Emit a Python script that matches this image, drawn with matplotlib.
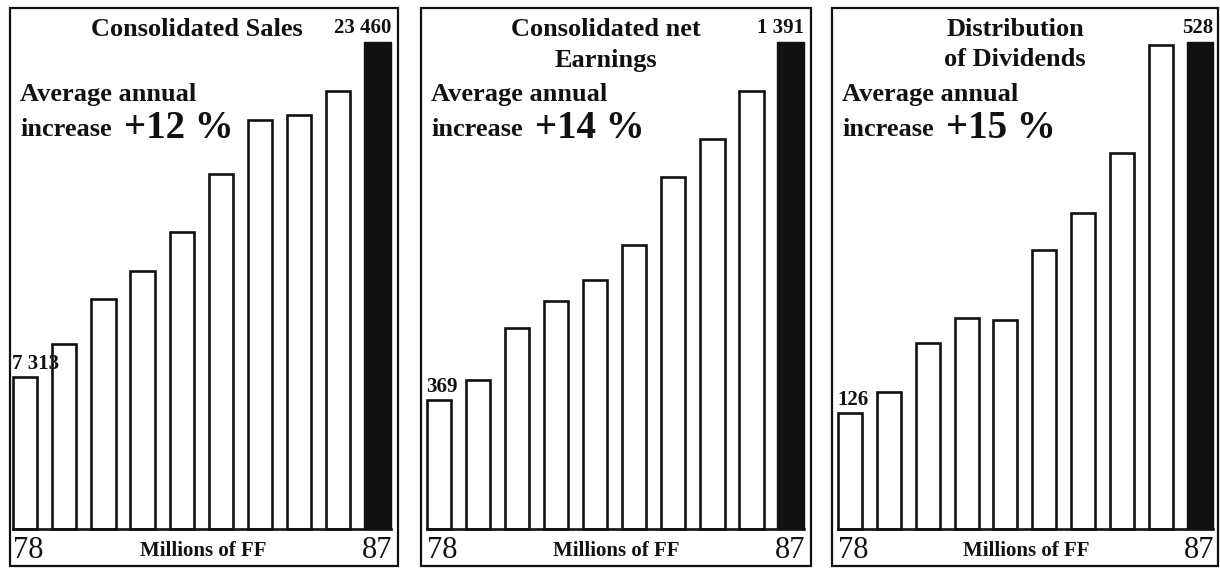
import matplotlib
matplotlib.use("Agg")
import matplotlib.pyplot as plt
from matplotlib.patches import Rectangle

# yearly figures, 1978 .. 1987, millions of FF
years = list(range(78, 88))
sales = [7313, 8900, 11100, 12450, 14300, 17100, 19700, 19950, 21100, 23460]
earnings = [369, 425, 575, 650, 710, 810, 1005, 1115, 1250, 1391]
dividends = [126, 149, 202, 229, 227, 303, 343, 408, 525, 528]

series = [sales, earnings, dividends]
titles = ["Consolidated Sales", "Consolidated net\nEarnings", "Distribution\nof Dividends"]
growth = ["+12 %", "+14 %", "+15 %"]
unit = "Millions of FF"

W, H = 1220, 575
FONT = "Liberation Serif"
INK = "#111111"

fig = plt.figure(figsize=(W / 100, H / 100), dpi=100)
fig.patch.set_facecolor("white")


def fx(x):
    return x / W


def fy(y):
    return 1 - y / H


def fmt(v):
    return f"{v:,}".replace(",", " ")


# panel geometry in pixels: outer frame and bar area
frames = [(10, 398), (421, 811), (832, 1218)]
bar_areas = [(13, 391), (427, 804), (838, 1213)]
title_x = [197, 606, 1015]
frame_top, frame_bot = 8, 566
base_y, top_y = 529, 42

for i, vals in enumerate(series):
    l, r = frames[i]
    fig.patches.append(Rectangle((fx(l), fy(frame_bot)), fx(r - l), (frame_bot - frame_top) / H,
                                 transform=fig.transFigure, fill=False, lw=1.6,
                                 edgecolor=INK))

    bl, br = bar_areas[i]
    ax = fig.add_axes([fx(bl), fy(base_y), fx(br - bl), (base_y - top_y) / H])
    ax.set_axis_off()
    x = list(range(len(vals)))
    ax.bar(x[:-1], vals[:-1], width=0.62, color="white", edgecolor=INK,
           linewidth=1.9, clip_on=False)
    ax.bar(x[-1], vals[-1], width=0.67, color=INK, edgecolor=INK,
           linewidth=1.0, clip_on=False)
    ax.axhline(0, color=INK, lw=1.9, clip_on=False)
    ax.set_xlim(-0.31, len(vals) - 1 + 0.345)
    ax.set_ylim(0, vals[-1])

    # first year value over the first bar
    ax.annotate(fmt(vals[0]), (-0.33, vals[0]), xytext=(0, 2), textcoords="offset points",
                ha="left", va="bottom", fontsize=15, fontweight="bold", family=FONT,
                color=INK, annotation_clip=False)

    # last year value over the dark bar
    fig.text(fx(br), fy(28), fmt(vals[-1]), ha="right", va="center", fontsize=15,
             fontweight="bold", family=FONT, color=INK)

    # title
    lines = titles[i].split("\n")
    for k, line in enumerate(lines):
        fig.text(fx(title_x[i]), fy(29 + 31 * k), line, ha="center", va="center",
                 fontsize=19, fontweight="bold", family=FONT, color=INK)

    # growth note
    fig.text(fx(l + 10), fy(95), "Average annual", ha="left", va="center", fontsize=19,
             fontweight="bold", family=FONT, color=INK)
    fig.text(fx(l + 10), fy(130), "increase", ha="left", va="center", fontsize=19,
             fontweight="bold", family=FONT, color=INK)
    fig.text(fx(l + 114), fy(128), growth[i], ha="left", va="center", fontsize=28,
             fontweight="bold", family=FONT, color=INK)

    # bottom line: first year, unit, last year
    fig.text(fx(bl), fy(550), str(years[0]), ha="left", va="center", fontsize=22,
             family=FONT, color=INK)
    fig.text(fx(br + 1), fy(550), str(years[-1]), ha="right", va="center", fontsize=22,
             family=FONT, color=INK)
    fig.text(fx((bl + br) / 2 + 1), fy(551), unit, ha="center", va="center", fontsize=15,
             fontweight="bold", family=FONT, color=INK)

fig.savefig("out.png", dpi=100, facecolor="white")
